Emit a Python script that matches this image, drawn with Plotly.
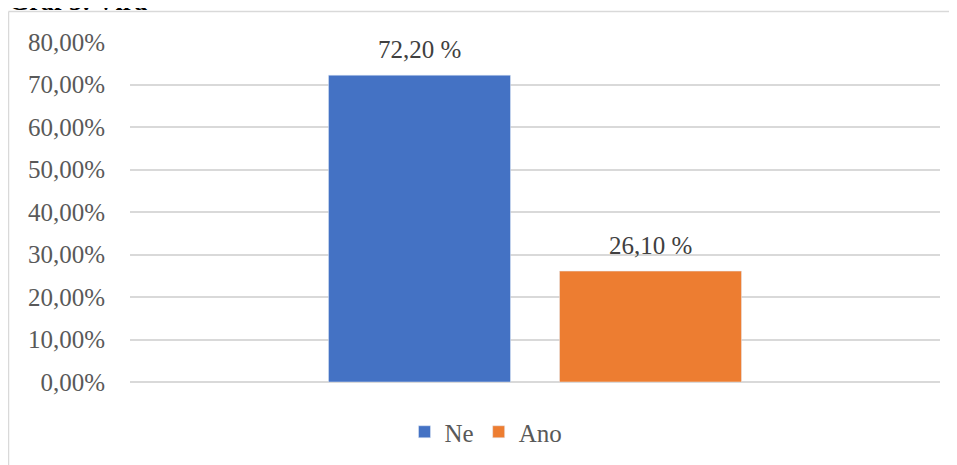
import plotly.graph_objects as go

# Data
series_names = ["Ne", "Ano"]
values = [0.722, 0.261]
colors = ["#4472C4", "#ED7D31"]
category = ["Víra"]
title_text = "Graf 5: Víra"

# The page body has an 8px margin, so the figure starts at page (8, 8).
OFF = 8
W, H = 957 - OFF, 465 - OFF
L, R, T, B = 130 - OFF, 17, 42 - OFF, 83
pw, ph = W - L - R, H - T - B
BARGAP, GROUPGAP = 0.4296, 0.212

def px_x(xpage):
    return (xpage - OFF - L) / pw

def px_y(ypage):
    return (H - B - (ypage - OFF)) / ph

fig = go.Figure()
slot = pw * (1 - BARGAP) / len(values)
for i, (name, v, c) in enumerate(zip(series_names, values, colors)):
    fig.add_trace(go.Bar(
        x=category, y=[v], name=name, marker_color=c, cliponaxis=False,
    ))
    label = f"{v*100:.2f}".replace(".", ",") + " %"
    fig.add_annotation(
        x=category[0], y=v, xref="x", yref="y", text=label, showarrow=False,
        xanchor="center", yanchor="bottom", yshift=10,
        xshift=(i - (len(values) - 1) / 2) * slot,
        font=dict(family="Liberation Serif", size=25, color="#404040"),
    )

fig.update_layout(
    width=W, height=H,
    margin=dict(l=L, r=R, t=T, b=B, pad=0, autoexpand=False),
    paper_bgcolor="white", plot_bgcolor="white",
    separators=", ",
    barmode="group", bargap=BARGAP, bargroupgap=GROUPGAP,
    font=dict(family="Liberation Serif", size=25, color="#595959"),
    showlegend=True,
    legend=dict(orientation="h", x=px_x(486), xanchor="center",
                y=px_y(432), yanchor="middle",
                font=dict(family="Liberation Serif", size=25, color="#595959"),
                bgcolor="rgba(0,0,0,0)", itemclick=False),
    xaxis=dict(type="category", range=[-0.5, 0.5], showticklabels=False,
               showgrid=False, zeroline=False, showline=False, ticks="",
               automargin=False),
    yaxis=dict(range=[0, 0.8], dtick=0.1, tickformat=".2%", automargin=False,
               showgrid=True, gridcolor="#D9D9D9", gridwidth=1.5,
               zeroline=True, zerolinecolor="#D9D9D9", zerolinewidth=1.5,
               showline=False, ticks="", ticklabelstandoff=24,
               tickfont=dict(family="Liberation Serif", size=25, color="#595959")),
)

# chart border (left and top edges visible)
fig.add_shape(type="line", xref="paper", yref="paper",
              x0=px_x(8.5), x1=px_x(960), y0=px_y(11.5), y1=px_y(11.5),
              line=dict(color="#D9D9D9", width=1.5))
fig.add_shape(type="line", xref="paper", yref="paper",
              x0=px_x(8.5), x1=px_x(8.5), y0=px_y(11.5), y1=px_y(470),
              line=dict(color="#D9D9D9", width=1.5))

# title, cut off at the top as in the reference
fig.add_annotation(text="<b>" + title_text + "</b>", xref="paper", yref="paper",
                   x=px_x(7), y=px_y(18), xanchor="left", yanchor="bottom",
                   showarrow=False,
                   font=dict(family="Liberation Serif", size=26, color="#000000"))

fig.write_html("out.html")
